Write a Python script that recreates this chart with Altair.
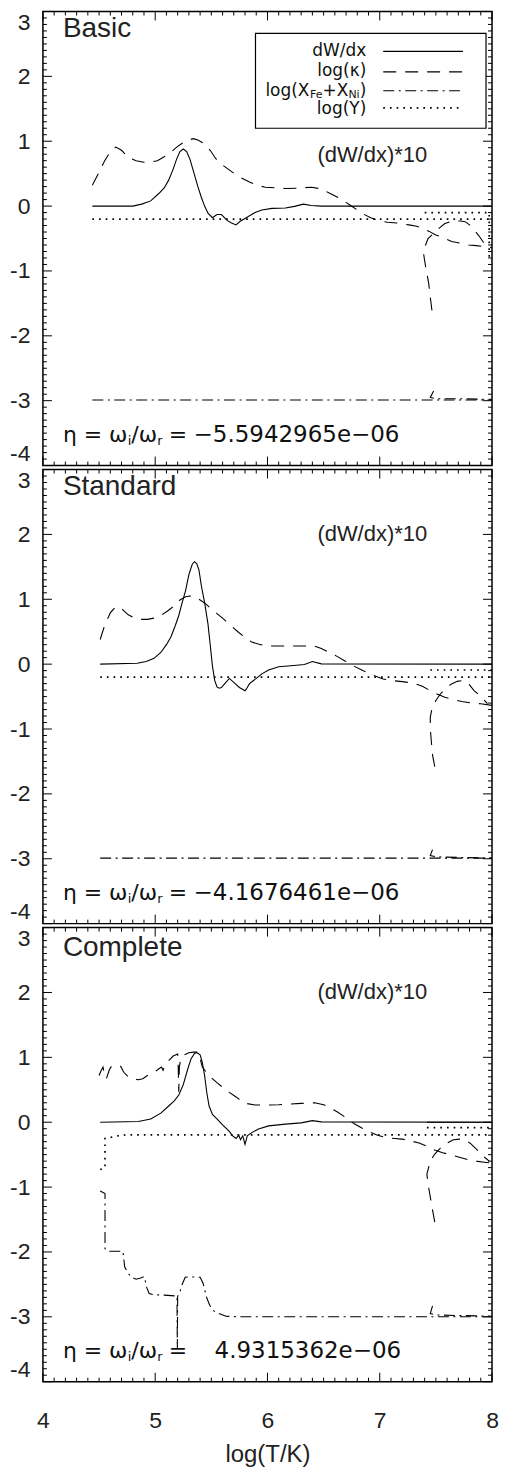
import altair as alt
import pandas as pd

# ---------------- data ----------------
# Panel 1: Basic
basic_dw_x = [4.44, 4.80, 4.88, 4.96, 5.03, 5.08, 5.12, 5.16, 5.19, 5.22, 5.25, 5.28, 5.31, 5.35, 5.38, 5.41, 5.44, 5.47,
              5.51, 5.55, 5.59, 5.64, 5.68, 5.72, 5.76, 5.80, 5.84, 5.89, 5.95, 6.04, 6.16, 6.24, 6.32, 6.39, 6.48, 8.00]
basic_dw_y = [0.0, 0.0, 0.03, 0.08, 0.19, 0.28, 0.40, 0.57, 0.72, 0.84, 0.88, 0.84, 0.72, 0.48, 0.30, 0.14, 0.0, -0.11,
              -0.18, -0.13, -0.13, -0.22, -0.26, -0.29, -0.23, -0.19, -0.15, -0.10, -0.06, -0.035, -0.03, -0.005, 0.03, 0.01, 0.0, 0.0]
basic_kappa_x = [4.44, 4.50, 4.55, 4.60, 4.65, 4.70, 4.76, 4.83, 4.90, 4.96, 5.02, 5.08, 5.14, 5.20, 5.25, 5.30, 5.34, 5.38,
                 5.43, 5.49, 5.54, 5.61, 5.69, 5.76, 5.84, 5.91, 5.98, 6.08, 6.16, 6.26, 6.39, 6.48, 6.55, 6.62, 6.68, 6.74,
                 6.80, 6.85, 6.92, 7.00, 7.07, 7.15, 7.26, 7.33, 7.38, 7.44, 7.50, 7.57, 7.64, 7.71, 7.79, 7.86, 7.93, 8.00]
basic_kappa_y = [0.32, 0.52, 0.70, 0.84, 0.91, 0.86, 0.75, 0.70, 0.675, 0.68, 0.70, 0.76, 0.83, 0.92, 0.98, 1.02, 1.04, 1.02,
                 0.97, 0.86, 0.73, 0.62, 0.52, 0.44, 0.37, 0.32, 0.29, 0.28, 0.27, 0.275, 0.29, 0.265, 0.20, 0.14, 0.08, 0.01,
                 -0.06, -0.12, -0.18, -0.23, -0.25, -0.26, -0.29, -0.31, -0.34, -0.39, -0.445, -0.49, -0.547, -0.57, -0.60, -0.61, -0.625, -0.64]
basic_kappa2_x = [7.465, 7.45, 7.436, 7.41, 7.39, 7.40, 7.43, 7.48, 7.53, 7.58, 7.63, 7.67, 7.72, 7.76, 7.80, 7.84, 7.88, 7.92, 7.95]
basic_kappa2_y = [-1.61, -1.40, -1.19, -0.95, -0.73, -0.64, -0.50, -0.42, -0.34, -0.27, -0.24, -0.23, -0.23, -0.24, -0.29, -0.37, -0.45, -0.55, -0.62]
basic_fe_x = [4.44, 8.00]
basic_fe_y = [-2.99, -2.99]
basic_fe2_x = [7.48, 7.45, 7.50, 7.70, 8.00]
basic_fe2_y = [-2.85, -2.95, -2.97, -2.97, -2.98]
basic_logy_x = [4.44, 8.00]
basic_logy_y = [-0.20, -0.20]
basic_logy2_x = [7.40, 7.975, 7.975]
basic_logy2_y = [-0.10, -0.10, -0.85]

# Panel 2: Standard
std_dw_x = [4.51, 4.84, 4.92, 4.99, 5.05, 5.10, 5.14, 5.18, 5.21, 5.24, 5.27, 5.30, 5.33, 5.35, 5.37, 5.39, 5.41, 5.44, 5.47,
            5.49, 5.51, 5.53, 5.55, 5.57, 5.59, 5.62, 5.66, 5.70, 5.75, 5.80, 5.82, 5.84, 5.87, 5.90, 5.95, 6.01, 6.10, 6.21,
            6.33, 6.40, 6.48, 8.00]
std_dw_y = [0.0, 0.015, 0.04, 0.09, 0.18, 0.30, 0.42, 0.60, 0.75, 0.95, 1.13, 1.38, 1.54, 1.58, 1.55, 1.45, 1.22, 0.95, 0.62,
            0.30, -0.03, -0.25, -0.35, -0.37, -0.36, -0.30, -0.22, -0.28, -0.36, -0.41, -0.36, -0.30, -0.26, -0.22, -0.15, -0.09,
            -0.04, -0.025, -0.005, 0.04, 0.005, 0.0]
std_kappa_x = [4.51, 4.55, 4.60, 4.64, 4.67, 4.71, 4.76, 4.82, 4.87, 4.93, 4.99, 5.05, 5.11, 5.17, 5.22, 5.27, 5.31, 5.36, 5.40,
               5.45, 5.49, 5.55, 5.60, 5.67, 5.75, 5.81, 5.86, 5.94, 6.04, 6.15, 6.27, 6.36, 6.40, 6.48, 6.55, 6.62, 6.69, 6.77,
               6.84, 6.91, 6.97, 7.03, 7.10, 7.20, 7.27, 7.32, 7.38, 7.44, 7.51, 7.58, 7.65, 7.73, 7.82, 7.90, 8.00]
std_kappa_y = [0.38, 0.60, 0.79, 0.87, 0.89, 0.84, 0.76, 0.71, 0.69, 0.69, 0.71, 0.75, 0.82, 0.90, 0.99, 1.04, 1.05, 1.03, 0.99,
               0.93, 0.865, 0.78, 0.71, 0.60, 0.48, 0.40, 0.34, 0.30, 0.28, 0.28, 0.28, 0.28, 0.29, 0.24, 0.18, 0.12, 0.05, -0.03,
               -0.09, -0.15, -0.19, -0.23, -0.25, -0.27, -0.285, -0.305, -0.34, -0.40, -0.46, -0.51, -0.545, -0.575, -0.60, -0.61, -0.636]
std_kappa2_x = [7.49, 7.47, 7.46, 7.45, 7.45, 7.465, 7.50, 7.54, 7.59, 7.64, 7.69, 7.74, 7.79, 7.84, 7.90, 7.96]
std_kappa2_y = [-1.58, -1.40, -1.20, -0.99, -0.82, -0.69, -0.56, -0.46, -0.37, -0.305, -0.265, -0.254, -0.30, -0.407, -0.50, -0.61]
std_fe_x = [4.51, 8.00]
std_fe_y = [-2.99, -2.99]
std_fe2_x = [7.47, 7.45, 7.50, 7.70, 8.00]
std_fe2_y = [-2.86, -2.95, -2.97, -2.98, -2.99]
std_logy_x = [4.51, 8.00]
std_logy_y = [-0.20, -0.20]
std_logy2_x = [7.45, 8.00]
std_logy2_y = [-0.09, -0.09]

# Panel 3: Complete
comp_dw_x = [4.51, 4.85, 4.96, 5.05, 5.12, 5.17, 5.21, 5.25, 5.29, 5.32, 5.35, 5.37, 5.40, 5.42, 5.44, 5.46, 5.48, 5.51, 5.55,
             5.60, 5.66, 5.69, 5.72, 5.745, 5.76, 5.78, 5.80, 5.82, 5.86, 5.92, 6.01, 6.16, 6.30, 6.40, 6.48, 8.00]
comp_dw_y = [0.0, 0.01, 0.05, 0.14, 0.25, 0.33, 0.42, 0.58, 0.82, 0.98, 1.06, 1.075, 1.04, 0.92, 0.72, 0.45, 0.25, 0.12, 0.05,
             -0.04, -0.14, -0.21, -0.25, -0.20, -0.27, -0.21, -0.34, -0.21, -0.16, -0.105, -0.056, -0.03, -0.01, 0.025, 0.005, 0.0]
comp_dw2_x = [7.42, 8.00]
comp_dw2_y = [0.0, 0.0]
comp_kappa_x = [4.50, 4.52, 4.535, 4.55, 4.565, 4.59, 4.605, 4.65, 4.69, 4.72, 4.76, 4.80, 4.85, 4.89, 4.93, 4.96, 5.00, 5.03,
                5.056, 5.07, 5.085, 5.12, 5.16, 5.20, 5.205, 5.21, 5.215, 5.23, 5.26, 5.30, 5.34, 5.38, 5.40, 5.42, 5.46, 5.49,
                5.55, 5.60, 5.66, 5.72, 5.78, 5.81, 5.89, 6.00, 6.10, 6.20, 6.30, 6.42, 6.50, 6.56, 6.62, 6.69, 6.77, 6.84,
                6.91, 6.98, 7.06, 7.13, 7.20, 7.28, 7.35, 7.42, 7.49, 7.56, 7.64, 7.71, 7.79, 7.86, 7.93, 8.00]
comp_kappa_y = [0.72, 0.80, 0.85, 0.72, 0.67, 0.80, 0.85, 0.87, 0.87, 0.77, 0.70, 0.67, 0.655, 0.67, 0.72, 0.75, 0.78, 0.82,
                0.85, 0.80, 0.87, 0.95, 1.02, 1.05, 0.85, 0.47, 0.85, 1.00, 1.04, 1.07, 1.08, 1.08, 0.98, 0.85, 0.76, 0.70,
                0.61, 0.54, 0.46, 0.39, 0.31, 0.29, 0.265, 0.265, 0.27, 0.28, 0.29, 0.30, 0.27, 0.22, 0.16, 0.08, -0.02, -0.09,
                -0.15, -0.20, -0.24, -0.25, -0.26, -0.29, -0.32, -0.37, -0.43, -0.47, -0.505, -0.54, -0.58, -0.60, -0.616, -0.63]
comp_kappa2_x = [7.49, 7.47, 7.45, 7.43, 7.42, 7.45, 7.49, 7.54, 7.60, 7.655, 7.71, 7.757, 7.81, 7.87, 7.92, 7.975]
comp_kappa2_y = [-1.54, -1.35, -1.15, -0.95, -0.80, -0.60, -0.49, -0.40, -0.32, -0.27, -0.26, -0.27, -0.33, -0.43, -0.52, -0.60]
comp_fe_x = [4.51, 4.553, 4.553, 4.58, 4.713, 4.728, 4.76, 4.786, 4.83, 4.87, 4.903, 4.925, 4.946, 4.99, 5.08, 5.194, 5.197,
             5.20, 5.217, 5.238, 5.267, 5.31, 5.40, 5.427, 5.456, 5.48, 5.50, 5.53, 5.56, 5.63, 5.75, 8.00]
comp_fe_y = [-1.06, -1.10, -1.95, -1.99, -1.99, -2.23, -2.33, -2.39, -2.42, -2.40, -2.38, -2.55, -2.64, -2.66, -2.665, -2.68,
             -3.50, -2.68, -2.64, -2.51, -2.39, -2.384, -2.39, -2.485, -2.69, -2.80, -2.87, -2.92, -2.944, -2.99, -3.0, -3.0]
comp_fe2_x = [7.47, 7.45, 7.50, 7.70, 8.00]
comp_fe2_y = [-2.83, -2.95, -2.97, -2.98, -2.99]
comp_logy_x = [4.51, 4.553, 4.553, 4.58, 4.70, 4.76, 8.00]
comp_logy_y = [-0.73, -0.70, -0.25, -0.24, -0.20, -0.195, -0.195]
comp_logy2_x = [7.42, 8.00]
comp_logy2_y = [-0.084, -0.084]

panel_names = ["Basic", "Standard", "Complete"]
eta_signed = [True, True, False]
eta_values = ["\u22125.5942965e\u221206", "\u22124.1676461e\u221206", "4.9315362e\u221206"]
x_tick_values = [4, 5, 6, 7, 8]
y_tick_values = [-4, -3, -2, -1, 0, 1, 2, 3]
legend_labels = ["dW/dx", "log(\u03ba)", "log(Y)"]

panel_series = [
    {"dw": [(basic_dw_x, basic_dw_y)],
     "kappa": [(basic_kappa_x, basic_kappa_y), (basic_kappa2_x, basic_kappa2_y)],
     "fe": [(basic_fe_x, basic_fe_y), (basic_fe2_x, basic_fe2_y)],
     "logy": [(basic_logy_x, basic_logy_y), (basic_logy2_x, basic_logy2_y)]},
    {"dw": [(std_dw_x, std_dw_y)],
     "kappa": [(std_kappa_x, std_kappa_y), (std_kappa2_x, std_kappa2_y)],
     "fe": [(std_fe_x, std_fe_y), (std_fe2_x, std_fe2_y)],
     "logy": [(std_logy_x, std_logy_y), (std_logy2_x, std_logy2_y)]},
    {"dw": [(comp_dw_x, comp_dw_y), (comp_dw2_x, comp_dw2_y)],
     "kappa": [(comp_kappa_x, comp_kappa_y), (comp_kappa2_x, comp_kappa2_y)],
     "fe": [(comp_fe_x, comp_fe_y), (comp_fe2_x, comp_fe2_y)],
     "logy": [(comp_logy_x, comp_logy_y), (comp_logy2_x, comp_logy2_y)]},
]

# ---------------- styling ----------------
W, H = 450, 455
XMIN, XMAX, YMIN, YMAX = 4.0, 8.0, -4.0, 3.0
STYLE = {
    "dw": dict(strokeWidth=1.1),
    "kappa": dict(strokeWidth=1.1, strokeDash=[13, 9]),
    "fe": dict(strokeWidth=1.1, strokeDash=[11, 4.5, 2, 4.5]),
    "logy": dict(strokeWidth=1.7, strokeDash=[1.7, 5.0]),
}
HELV = "Liberation Sans"
THIN = "DejaVu Sans"
TXT = "#111111"
MAJ, MIN = 9.0, 4.0  # tick lengths in px

minor_x = [round(4 + 0.1 * k, 1) for k in range(41) if k % 10]
minor_y = [round(-4 + 0.1 * k, 1) for k in range(71) if k % 10]

# tick lengths converted to data units through the panel size
DX = (XMAX - XMIN) / W
DY = (YMAX - YMIN) / H


def one():
    return pd.DataFrame({"a": [0]})


def txt(s, x, y, size, font=HELV, align="left", color=TXT, baseline="middle"):
    return alt.Chart(pd.DataFrame({"t": [s]})).mark_text(
        align=align, baseline=baseline, font=font, fontSize=size, color=color
    ).encode(text="t:N", x=alt.value(x), y=alt.value(y))


def make_panel(idx):
    bottom = idx == 2
    xscale = alt.Scale(domain=[XMIN, XMAX], nice=False, zero=False)
    yscale = alt.Scale(domain=[YMIN, YMAX], nice=False, zero=False)
    if bottom:
        xaxis = alt.Axis(values=x_tick_values, labelFlush=False, ticks=False, domain=False, grid=False,
                         labelPadding=28, title="log(T/K)", titlePadding=10, format="d")
    else:
        xaxis = None
    yaxis = alt.Axis(values=y_tick_values, labelFlush=True, ticks=False, domain=False, grid=False, format="d",
                     labelPadding=13, labelExpr="replace(datum.label, '\u2212', '-')", title=None)

    def X(f):
        return alt.X(f, type="quantitative", scale=xscale, axis=xaxis, title="log(T/K)" if bottom else None)

    def Y(f):
        return alt.Y(f, type="quantitative", scale=yscale, axis=yaxis, title=None)

    layers = []
    # curves
    for key in ["logy", "fe", "kappa", "dw"]:
        rows = []
        for s, (xs, ys) in enumerate(panel_series[idx][key]):
            for i, (xv, yv) in enumerate(zip(xs, ys)):
                rows.append({"x": xv, "y": yv, "seg": s, "i": i})
        df = pd.DataFrame(rows)
        layers.append(
            alt.Chart(df).mark_line(color="black", clip=True, strokeCap="butt", **STYLE[key]).encode(
                x=X("x"), y=Y("y"), detail="seg:N", order="i:Q")
        )
    # inward ticks (major + minor) on all four sides
    xt = []
    for vals, ln in [(x_tick_values, MAJ), (minor_x, MIN)]:
        for v in vals:
            xt.append({"v": v, "a": YMAX, "b": YMAX - ln * DY})
            xt.append({"v": v, "a": YMIN, "b": YMIN + ln * DY})
    yt = []
    for vals, ln in [(y_tick_values, MAJ), (minor_y, MIN)]:
        for v in vals:
            yt.append({"v": v, "a": XMIN, "b": XMIN + ln * DX})
            yt.append({"v": v, "a": XMAX, "b": XMAX - ln * DX})
    layers.append(alt.Chart(pd.DataFrame(xt)).mark_rule(color="black", strokeWidth=1).encode(
        x=X("v"), y=Y("a"), y2="b"))
    layers.append(alt.Chart(pd.DataFrame(yt)).mark_rule(color="black", strokeWidth=1).encode(
        y=Y("v"), x=X("a"), x2="b"))

    # panel title
    layers.append(txt(panel_names[idx], 20, 18 if idx < 2 else 20, 28, color="#222222"))
    # (dW/dx)*10 annotation
    layers.append(txt("(dW/dx)*10", 330, 144 if idx == 0 else 65, 22, align="center", color="#222222"))
    # eta text
    ey = 424
    fs, fsub = 22, 13
    layers.append(txt("\u03b7 = \u03c9", 20, ey, fs, font=THIN))
    layers.append(txt("i", 85, ey + 6, fsub, font=THIN))
    layers.append(txt("/\u03c9", 88.5, ey, fs, font=THIN))
    layers.append(txt("r", 114.5, ey + 6, fsub, font=THIN))
    layers.append(txt("=", 126, ey, fs, font=THIN))
    layers.append(txt(eta_values[idx], 151 if eta_signed[idx] else 172, ey, 23, font=THIN))

    if idx == 0:
        # legend box
        layers.append(alt.Chart(one()).mark_rect(fill="white", stroke="black", strokeWidth=1.2).encode(
            x=alt.value(213), x2=alt.value(444), y=alt.value(22), y2=alt.value(117)))
        lf, ls = 17, 11
        rx = 324
        layers.append(txt(legend_labels[0], rx, 40, lf, font=THIN, align="right"))
        layers.append(txt(legend_labels[1], rx, 60, lf, font=THIN, align="right"))
        layers.append(txt(")", rx, 79.5, lf, font=THIN, align="right"))
        layers.append(txt("Ni", rx - 6.6, 83.5, ls, font=THIN, align="right"))
        layers.append(txt("+X", rx - 17.9, 79.5, lf, font=THIN, align="right"))
        layers.append(txt("Fe", rx - 43.8, 83.5, ls, font=THIN, align="right"))
        layers.append(txt("log(X", rx - 56.9, 79.5, lf, font=THIN, align="right"))
        layers.append(txt(legend_labels[2], rx, 98, lf, font=THIN, align="right"))
        for yv, key in [(40, "dw"), (60.5, "kappa"), (79.5, "fe"), (96.5, "logy")]:
            layers.append(alt.Chart(one()).mark_rule(color="black", strokeCap="butt", **STYLE[key]).encode(
                x=alt.value(341), x2=alt.value(421), y=alt.value(yv)))

    return alt.layer(*layers).properties(width=W, height=H)


chart = alt.vconcat(make_panel(0), make_panel(1), make_panel(2), spacing=0).properties(
    padding={"left": 0, "top": 0, "right": 0, "bottom": 0}
).configure_view(
    stroke="black", strokeWidth=1.5
).configure_axis(
    labelFont=HELV, labelFontSize=23, labelColor="#222222",
    titleFont=HELV, titleFontSize=24, titleFontWeight="normal", titleColor="#222222"
)

chart.save("out.html", embed_options={"renderer": "svg", "actions": False})
